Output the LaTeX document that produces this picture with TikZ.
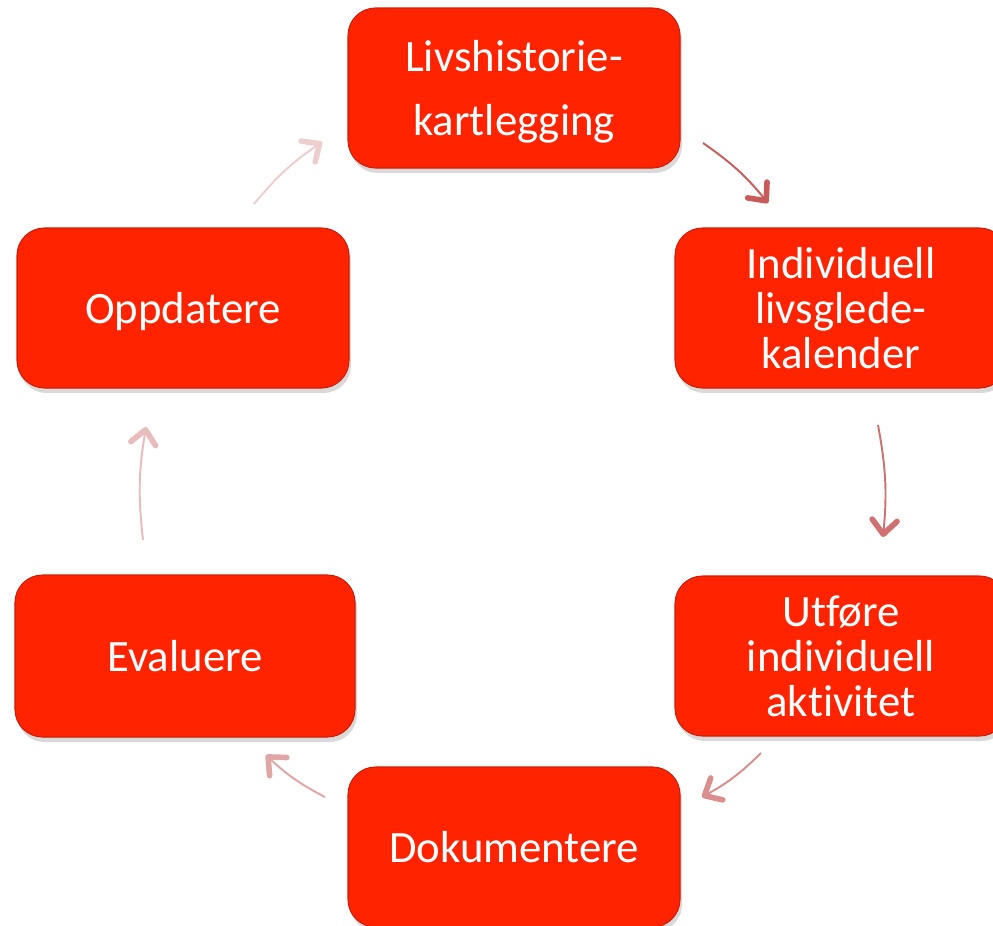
\documentclass[tikz,border=0pt]{standalone}
\usepackage{fontspec}
\setmainfont{Carlito}[Ligatures=NoCommon]
\usetikzlibrary{positioning,shadows,arrows.meta}
\definecolor{boxred}{RGB}{255,35,0}
\definecolor{boxedge}{RGB}{205,30,10}
\definecolor{arrA}{RGB}{200,92,92}
\definecolor{arrB}{RGB}{208,112,112}
\definecolor{arrC}{RGB}{218,142,142}
\definecolor{arrD}{RGB}{224,165,165}
\definecolor{arrE}{RGB}{232,188,188}
\definecolor{arrF}{RGB}{237,206,206}

\begin{document}
\begin{tikzpicture}[on grid, node distance=4.4cm and 6.54cm]
\tikzstyle{box}=[rectangle, rounded corners=0.55cm, fill=boxred, draw=boxedge, line width=0.6pt,
  text=white, align=center, minimum width=6.64cm, minimum height=3.2cm,
  font=\fontsize{25.5}{25.5}\selectfont,
  drop shadow={opacity=0.3, shadow xshift=0.04cm, shadow yshift=-0.1cm}]
\tikzstyle{cyc}=[line width=1.1pt, bend left=8,
  -{Straight Barb[length=0.28cm, width=0.5cm, line width=3.2pt, round]}]
\useasboundingbox (0,0) rectangle (19.86,-18.5);
\node[box, font=\fontsize{25.5}{36}\selectfont, text depth=0pt] (liv) at (10.28,-1.76) {Livshistorie-\\kartlegging};
\node[box]  (kal) [below right=of liv] {Individuell\\livsglede-\\kalender};
\node[box]  (utf) [below=6.96cm of kal] {Utføre\\individuell\\aktivitet};
\node[box]  (dok) [below left=3.82cm and 6.54cm of utf] {Dokumentere};
\node[box, minimum width=6.8cm, minimum height=3.24cm]
            (eva) [above left=3.82cm and 6.58cm of dok] {Evaluere};
\node[box, text depth=0pt]  (opp) [below left=4.4cm and 6.62cm of liv] {Oppdatere};
\coordinate (a1) at (14.06,-2.86);  \coordinate (b1) at (15.36,-4.06);
\coordinate (a2) at (17.56,-8.5);   \coordinate (b2) at (17.66,-10.74);
\coordinate (a3) at (15.22,-15.06); \coordinate (b3) at (14.04,-15.94);
\coordinate (a4) at (6.5,-15.94);   \coordinate (b4) at (5.32,-15.1);
\coordinate (a5) at (2.86,-10.8);   \coordinate (b5) at (2.92,-8.54);
\coordinate (a6) at (5.08,-4.08);   \coordinate (b6) at (6.44,-2.84);
\path
(a1) edge [cyc, arrA] (b1)
(a2) edge [cyc, arrB] (b2)
(a3) edge [cyc, arrC] (b3)
(a4) edge [cyc, arrD] (b4)
(a5) edge [cyc, arrE] (b5)
(a6) edge [cyc, arrF] (b6);
\end{tikzpicture}
\end{document}
